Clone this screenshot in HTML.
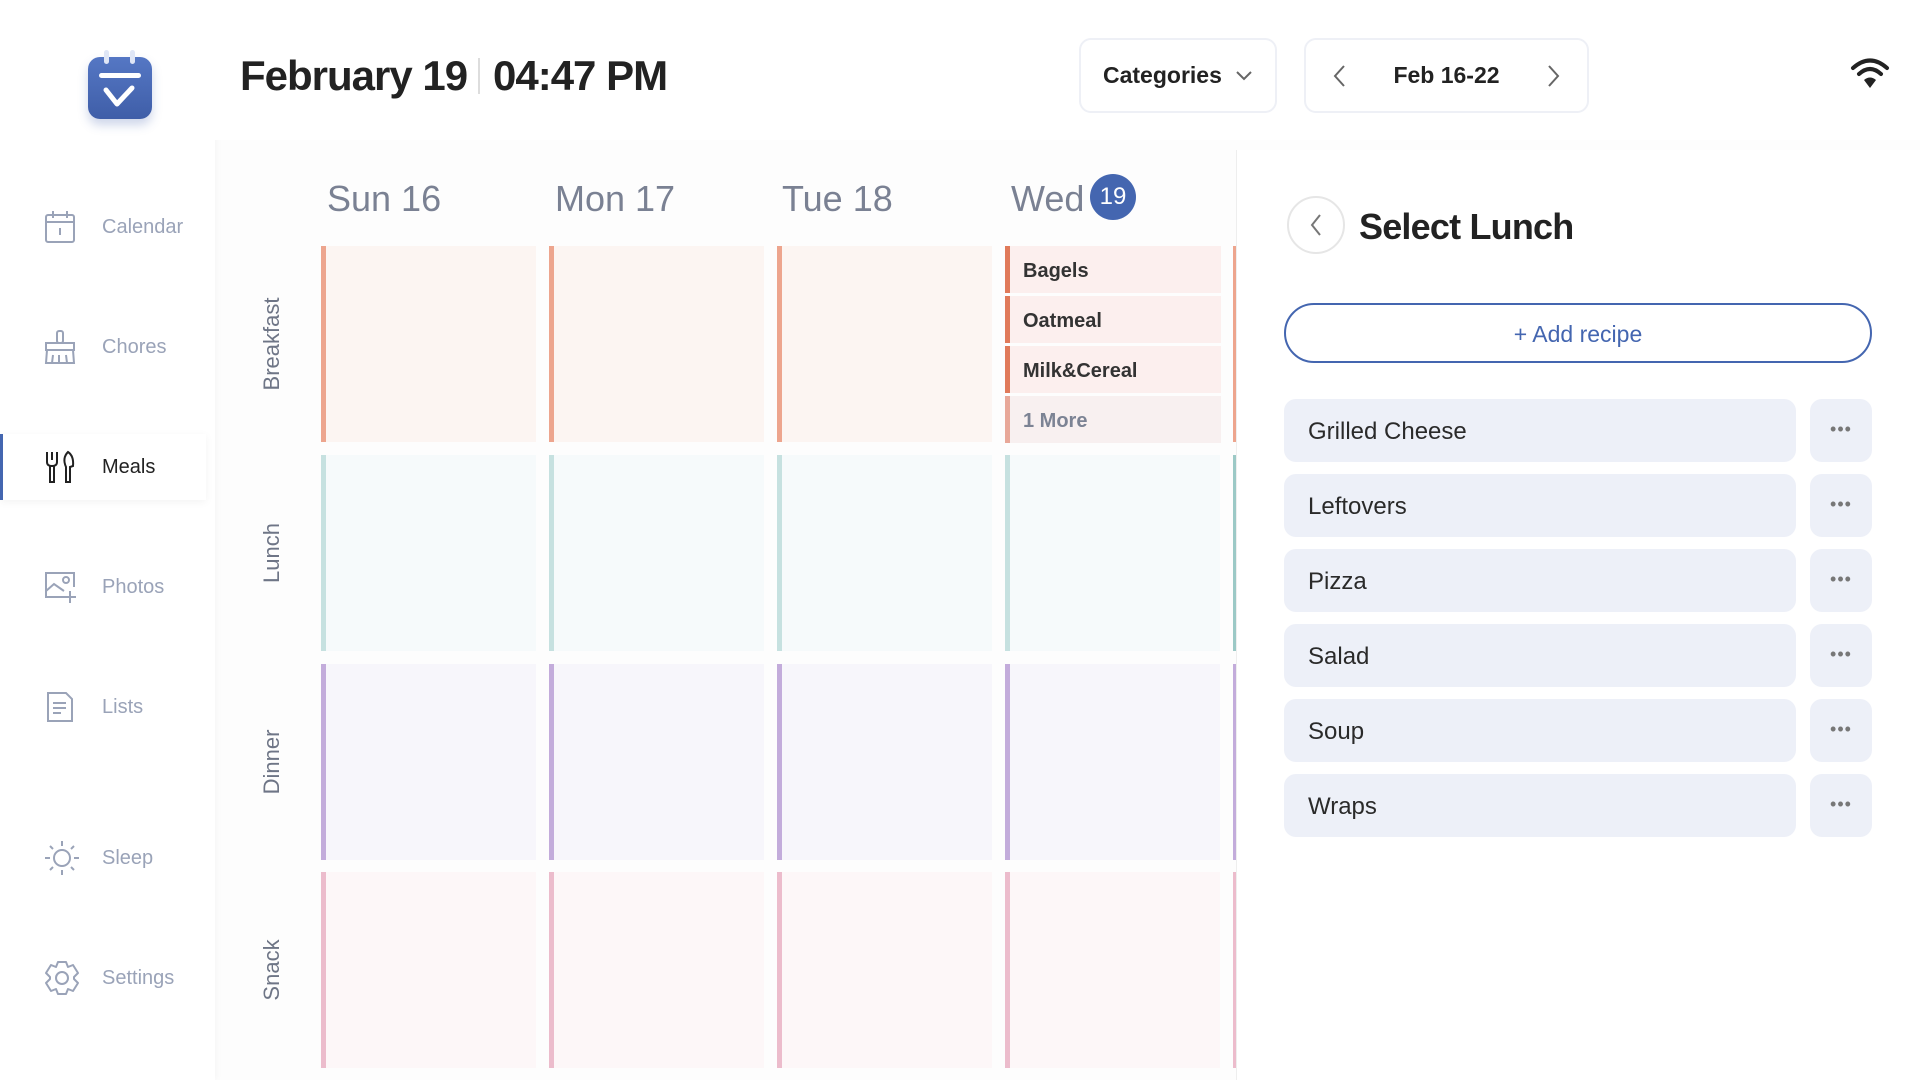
<!DOCTYPE html>
<html><head><meta charset="utf-8"><style>
*{margin:0;padding:0;box-sizing:border-box}
body{width:1920px;height:1080px;overflow:hidden;background:#fff;font-family:"Liberation Sans",sans-serif;position:relative}
.abs{position:absolute}
.side{left:0;top:0;width:215px;height:1080px;background:#fff;box-shadow:2px 0 6px rgba(0,0,0,0.03)}
.main{left:215px;top:0;width:1705px;height:1080px;background:#fdfdfd}
.nav{position:absolute;left:0;width:206px;height:66px;display:flex;align-items:center}
.nav span{position:absolute;left:102px;font-size:20px;color:#9aa3b8}
.nav svg{position:absolute;left:44px}
.btn{border:2px solid #eef0f6;border-radius:12px;background:#fff;display:flex;align-items:center;font-weight:bold;font-size:23px;color:#222}
.day{position:absolute;top:178px;font-size:36px;color:#7a8193}
.cell{position:absolute;width:215px;height:196px;border-left:5px solid}
.rl{position:absolute;left:272px;transform:translate(-50%,-50%) rotate(-90deg);font-size:22px;color:#6e7586;white-space:nowrap}
.it{position:absolute;left:1005px;width:216px;height:47px;background:#fcefee;border-left:5px solid #e07a5a;font-weight:bold;font-size:20px;color:#333;padding-left:13px;line-height:50px}
.li{position:absolute;left:1284px;width:512px;height:63px;background:#edf0f8;border-radius:12px;font-size:24px;color:#2a2a2a;padding-left:24px;line-height:65px}
.dt{position:absolute;left:1810px;width:62px;height:63px;background:#edf0f8;border-radius:12px;text-align:center;line-height:60px;color:#777;font-size:18px;letter-spacing:1px}
.ttl{position:absolute;top:52px;font-size:42px;font-weight:bold;color:#222;white-space:nowrap;letter-spacing:-1px}
</style></head><body>
<div class="abs main"></div>
<div class="abs side"></div>
<!-- logo -->
<div class="abs" style="left:88px;top:57px;width:64px;height:62px;border-radius:12px;background:linear-gradient(#5577c4,#3f5ea8);box-shadow:0 6px 10px rgba(60,90,170,0.25)"></div>
<div class="abs" style="left:104px;top:50px;width:5px;height:14px;border-radius:3px;background:#dfe6f6"></div>
<div class="abs" style="left:130px;top:50px;width:5px;height:14px;border-radius:3px;background:#dfe6f6"></div>
<div class="abs" style="left:99px;top:73px;width:42px;height:5px;border-radius:3px;background:#fff"></div>
<svg class="abs" style="left:100px;top:84px" width="40" height="30"><path d="M6 6 L17 20 L32 4" stroke="#fff" stroke-width="5" fill="none" stroke-linecap="round" stroke-linejoin="round"/></svg>
<!-- nav -->
<div class="nav" style="top:194px"><svg width="32" height="34" viewBox="0 0 32 34"><rect x="2" y="5" width="28" height="27" rx="2" fill="none" stroke="#9aa3b8" stroke-width="2"/><line x1="2" y1="12" x2="30" y2="12" stroke="#9aa3b8" stroke-width="2"/><line x1="9" y1="1" x2="9" y2="8" stroke="#9aa3b8" stroke-width="2"/><line x1="23" y1="1" x2="23" y2="8" stroke="#9aa3b8" stroke-width="2"/><line x1="16" y1="18" x2="16" y2="25" stroke="#9aa3b8" stroke-width="2"/></svg><span>Calendar</span></div>
<div class="nav" style="top:314px"><svg width="32" height="36" viewBox="0 0 32 36"><rect x="13" y="2" width="6" height="12" rx="2" fill="none" stroke="#9aa3b8" stroke-width="2"/><rect x="2" y="14" width="28" height="7" fill="none" stroke="#9aa3b8" stroke-width="2"/><path d="M3 21 L2 34 L30 34 L29 21 M9 26 L8 34 M15 26 L15 34 M22 26 L23 34" fill="none" stroke="#9aa3b8" stroke-width="2"/></svg><span>Chores</span></div>
<div class="abs" style="left:0;top:434px;width:206px;height:66px;background:#fff;box-shadow:0 2px 8px rgba(0,0,0,0.05)"></div>
<div class="abs" style="left:0;top:434px;width:3px;height:66px;background:#4466b0"></div>
<div class="nav" style="top:434px"><svg width="32" height="34" viewBox="0 0 32 34"><path d="M3 2 L3 12 Q3 16 8 16 Q13 16 13 12 L13 2 M8 2 L8 10 M6 16 L6 32 L10 32 L10 16 M24 2 Q30 6 29 16 L26 17 L26 32 L22 32 L22 17 Q18 8 24 2Z" fill="none" stroke="#222" stroke-width="2"/></svg><span style="color:#222">Meals</span></div>
<div class="nav" style="top:554px"><svg width="32" height="32" viewBox="0 0 32 32"><path d="M20 26 L2 26 L2 2 L30 2 L30 16" fill="none" stroke="#9aa3b8" stroke-width="2"/><path d="M2 20 L10 13 L20 20" fill="none" stroke="#9aa3b8" stroke-width="2"/><circle cx="22" cy="9" r="3" fill="none" stroke="#9aa3b8" stroke-width="2"/><path d="M26 20 L26 32 M20 26 L32 26" stroke="#9aa3b8" stroke-width="2"/></svg><span>Photos</span></div>
<div class="nav" style="top:674px"><svg width="32" height="32" viewBox="0 0 32 32"><path d="M4 2 L22 2 L28 8 L28 30 L4 30Z" fill="none" stroke="#9aa3b8" stroke-width="2"/><path d="M9 12 L22 12 M9 17 L22 17 M9 22 L17 22" stroke="#9aa3b8" stroke-width="2"/></svg><span>Lists</span></div>
<div class="nav" style="top:825px"><svg width="36" height="36" viewBox="0 0 36 36"><circle cx="18" cy="18" r="8" fill="none" stroke="#9aa3b8" stroke-width="2"/><path d="M18 1 L18 6 M18 30 L18 35 M1 18 L6 18 M30 18 L35 18 M6 6 L9 9 M27 27 L30 30 M6 30 L9 27 M27 9 L30 6" stroke="#9aa3b8" stroke-width="2"/></svg><span>Sleep</span></div>
<div class="nav" style="top:945px"><svg width="36" height="36" viewBox="0 0 36 36"><path d="M14 2 L22 2 L24 7 L29 5 L34 13 L30 17 L30 19 L34 23 L29 31 L24 29 L22 34 L14 34 L12 29 L7 31 L2 23 L6 19 L6 17 L2 13 L7 5 L12 7Z" fill="none" stroke="#9aa3b8" stroke-width="2" stroke-linejoin="round"/><circle cx="18" cy="18" r="6" fill="none" stroke="#9aa3b8" stroke-width="2"/></svg><span>Settings</span></div>
<!-- header -->
<div class="abs" style="left:215px;top:0;width:1705px;height:140px;background:#fff"></div>
<div class="ttl" style="left:240px">February 19</div>
<div class="abs" style="left:478px;top:58px;width:2px;height:36px;background:#ddd"></div>
<div class="ttl" style="left:493px">04:47 PM</div>
<div class="abs btn" style="left:1079px;top:38px;width:198px;height:75px;padding-left:22px">Categories<svg style="margin-left:14px" width="16" height="10"><path d="M1 1 L8 8 L15 1" stroke="#666" stroke-width="2" fill="none"/></svg></div>
<div class="abs btn" style="left:1304px;top:38px;width:285px;height:75px;justify-content:center">Feb 16-22</div>
<svg class="abs" style="left:1332px;top:64px" width="14" height="24"><path d="M12 2 L3 12 L12 22" stroke="#666" stroke-width="2" fill="none"/></svg>
<svg class="abs" style="left:1547px;top:64px" width="14" height="24"><path d="M2 2 L11 12 L2 22" stroke="#666" stroke-width="2" fill="none"/></svg>
<svg class="abs" style="left:1850px;top:56px" width="40" height="34" viewBox="0 0 40 34"><path d="M3 12 Q20 -3 37 12" stroke="#222" stroke-width="4" fill="none" stroke-linecap="round"/><path d="M9 18 Q20 8 31 18" stroke="#222" stroke-width="4" fill="none" stroke-linecap="round"/><path d="M14 24 Q20 19 26 24 L20 32Z" fill="#222"/></svg>
<!-- calendar -->
<div class="abs" style="left:215px;top:150px;width:1021px;height:930px;overflow:hidden">
<div style="position:absolute;left:-215px;top:-150px;width:1920px;height:1080px">
<div class="day" style="left:327px">Sun 16</div>
<div class="day" style="left:555px">Mon 17</div>
<div class="day" style="left:782px">Tue 18</div>
<div class="day" style="left:1011px">Wed</div>
<div class="abs" style="left:1090px;top:174px;width:46px;height:46px;border-radius:50%;background:#4466b0;color:#fff;font-size:24px;text-align:center;line-height:46px">19</div>
<div class="rl" style="top:344px">Breakfast</div>
<div class="rl" style="top:553px">Lunch</div>
<div class="rl" style="top:762px">Dinner</div>
<div class="rl" style="top:970px">Snack</div>
<div class="cell" style="left:321px;top:246px;background:#fcf5f2;border-color:#eda58e"></div>
<div class="cell" style="left:549px;top:246px;background:#fcf5f2;border-color:#eda58e"></div>
<div class="cell" style="left:777px;top:246px;background:#fcf5f2;border-color:#eda58e"></div>
<div class="cell" style="left:1233px;top:246px;background:#fcf5f2;border-color:#eda58e"></div>
<div class="cell" style="left:321px;top:455px;background:#f6fafb;border-color:#c6e1e0"></div>
<div class="cell" style="left:549px;top:455px;background:#f6fafb;border-color:#c6e1e0"></div>
<div class="cell" style="left:777px;top:455px;background:#f6fafb;border-color:#c6e1e0"></div>
<div class="cell" style="left:1005px;top:455px;background:#f6fafb;border-color:#c6e1e0"></div>
<div class="cell" style="left:1233px;top:455px;background:#f6fafb;border-color:#9cc9c6"></div>
<div class="cell" style="left:321px;top:664px;background:#f7f6fb;border-color:#c3acdb"></div>
<div class="cell" style="left:549px;top:664px;background:#f7f6fb;border-color:#c3acdb"></div>
<div class="cell" style="left:777px;top:664px;background:#f7f6fb;border-color:#c3acdb"></div>
<div class="cell" style="left:1005px;top:664px;background:#f7f6fb;border-color:#c3acdb"></div>
<div class="cell" style="left:1233px;top:664px;background:#f7f6fb;border-color:#c3acdb"></div>
<div class="cell" style="left:321px;top:872px;background:#fdf7f8;border-color:#ecbccc"></div>
<div class="cell" style="left:549px;top:872px;background:#fdf7f8;border-color:#ecbccc"></div>
<div class="cell" style="left:777px;top:872px;background:#fdf7f8;border-color:#ecbccc"></div>
<div class="cell" style="left:1005px;top:872px;background:#fdf7f8;border-color:#ecbccc"></div>
<div class="cell" style="left:1233px;top:872px;background:#fdf7f8;border-color:#ecbccc"></div>
<div class="it" style="top:246px">Bagels</div>
<div class="it" style="top:296px">Oatmeal</div>
<div class="it" style="top:346px">Milk&amp;Cereal</div>
<div class="it" style="top:396px;background:#f8f0f0;border-color:#e8a899;color:#7c8394">1 More</div>
</div></div>
<!-- panel -->
<div class="abs" style="left:1236px;top:150px;width:684px;height:930px;background:#fff;border-left:1px solid #eee"></div>
<div class="abs" style="left:1287px;top:196px;width:58px;height:58px;border-radius:50%;border:2px solid #e6e6e6;background:#fff"></div>
<svg class="abs" style="left:1309px;top:213px" width="14" height="24"><path d="M11 2 L3 12 L11 22" stroke="#777" stroke-width="2" fill="none"/></svg>
<div class="abs" style="left:1359px;top:206px;font-size:36px;font-weight:bold;color:#222;letter-spacing:-0.8px">Select Lunch</div>
<div class="abs" style="left:1284px;top:303px;width:588px;height:60px;border:2px solid #4466b0;border-radius:30px;text-align:center;line-height:58px;font-size:23px;color:#4466b0">+ Add recipe</div>
<div class="li" style="top:399px">Grilled Cheese</div><div class="dt" style="top:399px">•••</div>
<div class="li" style="top:474px">Leftovers</div><div class="dt" style="top:474px">•••</div>
<div class="li" style="top:549px">Pizza</div><div class="dt" style="top:549px">•••</div>
<div class="li" style="top:624px">Salad</div><div class="dt" style="top:624px">•••</div>
<div class="li" style="top:699px">Soup</div><div class="dt" style="top:699px">•••</div>
<div class="li" style="top:774px">Wraps</div><div class="dt" style="top:774px">•••</div>
</body></html>
